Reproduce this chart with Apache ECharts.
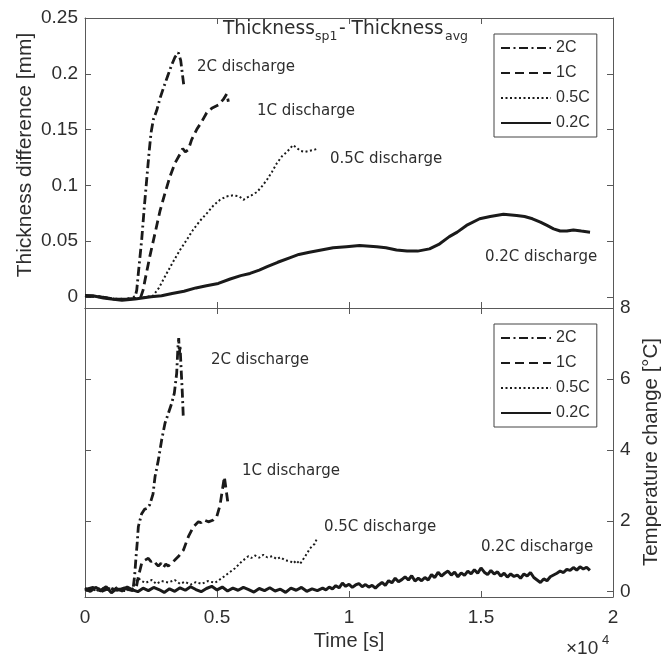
<!DOCTYPE html>
<html>
<head>
<meta charset="utf-8">
<script src="https://cdn.jsdelivr.net/npm/echarts@6/dist/echarts.min.js"></script>
<style>
html,body{margin:0;padding:0;background:#fff;}
#chart{width:663px;height:658px;}
</style>
</head>
<body>
<div id="chart"></div>
<script>
// ---- axis ticks / labels ----
const timeTicks = [0, 5000, 10000, 15000, 20000];
const timeTickLabels = ['0', '0.5', '1', '1.5', '2'];
const thickTicks = [0, 0.05, 0.1, 0.15, 0.2, 0.25];
const thickTickLabels = ['0', '0.05', '0.1', '0.15', '0.2', '0.25'];
const tempTicks = [0, 2, 4, 6, 8];
const tempTickLabels = ['0', '2', '4', '6', '8'];
const seriesNames = ['2C', '1C', '0.5C', '0.2C'];

// ---- top panel: thickness difference [mm] vs time [s] ----
const thick2C = [[0,0.001],[600,0.0],[1100,-0.002],[1600,-0.002],[1900,0.0],[1960,0.006],[2020,0.021],[2147,0.051],[2248,0.081],[2337,0.105],[2425,0.129],[2501,0.147],[2589,0.159],[2715,0.167],[2842,0.178],[2968,0.187],[3132,0.198],[3284,0.208],[3410,0.215],[3536,0.219],[3625,0.212],[3688,0.200],[3751,0.188]];
const thick1C = [[0,0.001],[600,0.0],[1100,-0.002],[1600,-0.002],[2100,-0.001],[2200,0.006],[2273,0.015],[2462,0.037],[2652,0.057],[2841,0.077],[3030,0.093],[3220,0.108],[3410,0.120],[3599,0.128],[3700,0.133],[3800,0.130],[3915,0.132],[4040,0.141],[4230,0.150],[4420,0.157],[4610,0.165],[4800,0.169],[5050,0.172],[5240,0.177],[5370,0.182],[5430,0.175]];
const thick05C = [[0,0.001],[600,0.0],[1100,-0.002],[1600,-0.002],[2100,-0.001],[2576,0.001],[2800,0.008],[3093,0.021],[3350,0.032],[3599,0.042],[3850,0.051],[4091,0.060],[4350,0.068],[4621,0.075],[4870,0.082],[5114,0.087],[5350,0.090],[5606,0.091],[5850,0.090],[6000,0.087],[6136,0.089],[6300,0.091],[6515,0.094],[6700,0.099],[6894,0.105],[7080,0.112],[7273,0.120],[7460,0.126],[7652,0.130],[7879,0.136],[8000,0.134],[8144,0.131],[8330,0.130],[8523,0.131],[8700,0.132],[8826,0.133]];
const thick02C = [[0,0.001],[300,0.001],[700,-0.001],[1000,-0.002],[1400,-0.003],[1900,-0.002],[2500,0.0],[2900,0.001],[3300,0.003],[3750,0.005],[4200,0.008],[4600,0.010],[5050,0.012],[5500,0.016],[5900,0.019],[6250,0.021],[6600,0.024],[6900,0.027],[7300,0.031],[7750,0.035],[8100,0.038],[8500,0.040],[8950,0.042],[9400,0.044],[9900,0.045],[10400,0.046],[11050,0.045],[11400,0.044],[11800,0.042],[12200,0.041],[12600,0.041],[13050,0.043],[13400,0.047],[13800,0.054],[14100,0.058],[14450,0.064],[14950,0.070],[15350,0.072],[15850,0.074],[16350,0.073],[16650,0.072],[16950,0.070],[17250,0.067],[17500,0.064],[17750,0.061],[18000,0.059],[18250,0.059],[18500,0.060],[18800,0.059],[19130,0.058]];

// ---- bottom panel: temperature change [°C] vs time [s] ----
const temp2C = [[0,0.06],[300,0.12],[600,0.0],[900,0.09],[1200,0.03],[1500,0.11],[1800,0.05],[1831,0.14],[1880,0.45],[1930,0.95],[1980,1.40],[2020,1.83],[2083,2.02],[2147,2.2],[2250,2.32],[2348,2.35],[2450,2.45],[2576,2.75],[2652,3.24],[2778,3.71],[2904,4.28],[3030,4.75],[3157,5.03],[3283,5.31],[3384,5.6],[3473,6.16],[3520,6.9],[3550,7.15],[3575,6.7],[3600,6.95],[3637,6.34],[3687,5.6],[3725,4.89]];
const temp1C = [[0,0.05],[300,0.10],[600,0.02],[900,0.12],[1200,0.04],[1500,0.09],[1800,0.03],[1950,0.15],[2020,0.42],[2147,0.80],[2273,0.89],[2400,0.94],[2500,0.85],[2589,0.89],[2700,0.78],[2778,0.72],[2880,0.80],[2968,0.68],[3060,0.78],[3157,0.72],[3250,0.80],[3347,0.85],[3440,0.92],[3536,0.99],[3726,1.17],[3915,1.55],[4105,1.83],[4294,1.97],[4400,1.95],[4484,2.03],[4580,2.0],[4673,1.97],[4863,2.02],[4989,2.11],[5115,2.44],[5204,2.87],[5279,3.24],[5330,2.96],[5406,2.54]];
const temp05C = [[0,0.10],[300,0.03],[600,0.11],[900,0.04],[1200,0.12],[1500,0.02],[1800,0.08],[1894,0.23],[2020,0.38],[2147,0.30],[2300,0.25],[2525,0.33],[2700,0.22],[2900,0.30],[3157,0.26],[3400,0.33],[3600,0.22],[3788,0.28],[4000,0.20],[4200,0.27],[4420,0.22],[4650,0.30],[4925,0.25],[5178,0.38],[5430,0.52],[5683,0.66],[5935,0.85],[6188,1.00],[6300,0.95],[6440,1.02],[6600,0.96],[6755,1.04],[6900,0.97],[7100,1.00],[7260,0.92],[7400,0.97],[7600,0.88],[7765,0.86],[7900,0.80],[8000,0.88],[8144,0.78],[8333,0.99],[8523,1.22],[8700,1.35],[8775,1.48]];
const temp02C = [[0,0.08],[200,0.01],[400,0.12],[600,0.04],[800,0.14],[1000,-0.03],[1200,0.09],[1400,0.02],[1600,0.13],[1800,0.05],[2000,0.0],[2200,0.10],[2400,0.03],[2600,0.12],[2800,0.06],[3000,-0.02],[3200,0.08],[3400,0.01],[3600,0.11],[3800,0.04],[4000,0.14],[4200,0.06],[4400,0.0],[4600,0.09],[4800,0.15],[5000,0.05],[5200,0.13],[5400,0.02],[5600,0.10],[5800,0.04],[6000,0.12],[6200,0.06],[6400,-0.01],[6600,0.09],[6800,0.03],[7000,0.11],[7200,0.02],[7400,0.07],[7600,-0.02],[7800,0.10],[8000,0.04],[8200,0.12],[8400,0.01],[8600,0.08],[8800,0.03],[9000,0.10],
  [9125,0.05],[9250,0.13],[9375,0.08],[9500,0.17],[9625,0.11],[9750,0.24],[9875,0.15],[10000,0.21],[10125,0.12],[10250,0.19],[10375,0.23],[10500,0.14],[10625,0.20],[10750,0.13],[10875,0.18],[11000,0.10],[11125,0.19],[11250,0.26],[11375,0.18],[11500,0.31],[11625,0.25],[11750,0.38],[11875,0.28],[12000,0.34],[12125,0.42],[12250,0.33],[12375,0.45],[12500,0.30],[12625,0.38],[12750,0.31],[12875,0.40],[13000,0.33],[13125,0.48],[13250,0.40],[13375,0.55],[13500,0.44],[13625,0.52],[13750,0.58],[13875,0.47],[14000,0.55],[14125,0.42],[14250,0.53],[14375,0.46],[14500,0.58],[14625,0.50],[14750,0.62],[14875,0.52],[15000,0.67],[15125,0.55],[15250,0.48],[15375,0.60],[15500,0.50],[15625,0.56],[15750,0.44],[15875,0.52],[16000,0.41],[16125,0.50],[16250,0.43],[16375,0.47],[16500,0.38],[16625,0.50],[16750,0.44],[16875,0.54],[17000,0.40],[17125,0.33],[17250,0.26],[17375,0.36],[17500,0.31],[17625,0.42],[17750,0.47],[17875,0.52],[18000,0.58],[18125,0.54],[18250,0.63],[18375,0.60],[18500,0.68],[18625,0.61],[18750,0.70],[18875,0.64],[19000,0.69],[19125,0.60]];

// ---- styling ----
const AX = '#595959';
const TXT = '#2e2e2e';
const TICKFONT = 'Liberation Sans';
const ANNFONT = 'DejaVu Sans';
const styles = {
  '2C':   {type: [9, 3.5, 2, 3.5], width: 2.8},
  '1C':   {type: [9, 5], width: 2.8},
  '0.5C': {type: [2, 2.5], width: 2},
  '0.2C': {type: 'solid', width: 3}
};

function mkSeries(name, data, xi, yi) {
  return {
    name: name, type: 'line', data: data, xAxisIndex: xi, yAxisIndex: yi,
    symbol: 'none', showSymbol: false, smooth: false, animation: false,
    lineStyle: {color: '#1a1a1a', width: styles[name].width, type: styles[name].type, cap: 'butt'},
    itemStyle: {color: '#1a1a1a'}
  };
}

function xAx(grid, pos, labels) {
  return {
    type: 'value', gridIndex: grid, position: pos, min: 0, max: 20000, interval: 5000,
    axisLine: {show: true, onZero: false, lineStyle: {color: AX, width: 1}},
    axisTick: {show: true, inside: true, length: 6, lineStyle: {color: AX, width: 1}},
    axisLabel: labels ? {
      show: true, margin: 11, fontFamily: TICKFONT, fontSize: 19, color: TXT,
      showMinLabel: true, showMaxLabel: true,
      formatter: v => { const i = timeTicks.indexOf(v); return i >= 0 ? timeTickLabels[i] : ''; }
    } : {show: false},
    splitLine: {show: false}
  };
}

function yAx(grid, pos, min, max, ticks, tickLabels, showLabels) {
  return {
    type: 'value', gridIndex: grid, position: pos, min: min, max: max,
    axisLine: {show: true, onZero: false, lineStyle: {color: AX, width: 1}},
    axisTick: {show: true, inside: true, length: 6, customValues: ticks, lineStyle: {color: AX, width: 1}},
    axisLabel: showLabels ? {
      show: true, margin: 7, fontFamily: TICKFONT, fontSize: 19, color: TXT,
      customValues: ticks,
      formatter: v => { const i = ticks.indexOf(v); return i >= 0 ? tickLabels[i] : ''; }
    } : {show: false},
    splitLine: {show: false}
  };
}

function mkLegend(top) {
  return {
    data: seriesNames, orient: 'vertical', left: 494, top: top,
    itemWidth: 50, itemHeight: 14, itemGap: 9,
    padding: [6, 7, 6, 6],
    borderColor: '#444', borderWidth: 1, backgroundColor: '#fff',
    selectedMode: false,
    itemStyle: {opacity: 0, borderWidth: 0, color: 'rgba(0,0,0,0)'},
    textStyle: {fontFamily: TICKFONT, fontSize: 16, color: TXT}
  };
}

function txt(s, x, y, extra) {
  return {
    type: 'text', x: x, y: y, silent: true,
    style: Object.assign({
      text: s, fontFamily: ANNFONT, fontSize: 15, fill: TXT,
      align: 'left', verticalAlign: 'middle', textAlign: 'left', textVerticalAlign: 'middle'
    }, extra || {})
  };
}

const chart = echarts.init(document.getElementById('chart'), null, {renderer: 'canvas'});
chart.setOption({
  animation: false,
  backgroundColor: '#ffffff',
  grid: [
    {left: 85, top: 18, width: 528, height: 290, containLabel: false, outerBoundsMode: 'none'},
    {left: 85, top: 308, width: 528, height: 289, containLabel: false, outerBoundsMode: 'none'}
  ],
  xAxis: [
    xAx(0, 'bottom', false),
    xAx(0, 'top', false),
    xAx(1, 'bottom', true),
    xAx(1, 'top', false)
  ],
  yAxis: [
    yAx(0, 'left', -0.01, 0.25, thickTicks, thickTickLabels, true),
    yAx(0, 'right', -0.01, 0.25, thickTicks, thickTickLabels, false),
    yAx(1, 'left', -0.15, 8, tempTicks, tempTickLabels, false),
    yAx(1, 'right', -0.15, 8, tempTicks, tempTickLabels, true)
  ],
  legend: [mkLegend(34), mkLegend(324)],
  series: [
    mkSeries('2C', thick2C, 0, 0),
    mkSeries('1C', thick1C, 0, 0),
    mkSeries('0.5C', thick05C, 0, 0),
    mkSeries('0.2C', thick02C, 0, 0),
    mkSeries('2C', temp2C, 2, 3),
    mkSeries('1C', temp1C, 2, 3),
    mkSeries('0.5C', temp05C, 2, 3),
    mkSeries('0.2C', temp02C, 2, 3)
  ],
  graphic: [
    // title
    txt('Thickness', 223, 29, {fontSize: 18.6}),
    txt('sp1', 315, 37, {fontSize: 12.5}),
    txt('- Thickness', 339, 29, {fontSize: 18.6}),
    txt('avg', 445, 37, {fontSize: 12.5}),
    // annotations top
    txt('2C discharge', 197, 67),
    txt('1C discharge', 257, 111),
    txt('0.5C discharge', 330, 159),
    txt('0.2C discharge', 485, 257),
    // annotations bottom
    txt('2C discharge', 211, 360),
    txt('1C discharge', 242, 471),
    txt('0.5C discharge', 324, 527),
    txt('0.2C discharge', 481, 547),
    // axis titles
    {type: 'text', x: 25, y: 155, rotation: Math.PI / 2, silent: true,
     style: {text: 'Thickness difference [mm]', fontFamily: TICKFONT, fontSize: 21, fill: TXT,
             align: 'center', verticalAlign: 'middle', textAlign: 'center', textVerticalAlign: 'middle'}},
    {type: 'text', x: 651, y: 452, rotation: Math.PI / 2, silent: true,
     style: {text: 'Temperature change [°C]', fontFamily: TICKFONT, fontSize: 20.5, fill: TXT,
             align: 'center', verticalAlign: 'middle', textAlign: 'center', textVerticalAlign: 'middle'}},
    {type: 'text', x: 349, y: 641, silent: true,
     style: {text: 'Time [s]', fontFamily: TICKFONT, fontSize: 20, fill: TXT,
             align: 'center', verticalAlign: 'middle', textAlign: 'center', textVerticalAlign: 'middle'}},
    {type: 'text', x: 566, y: 649, silent: true,
     style: {text: '×10', fontFamily: TICKFONT, fontSize: 19, fill: TXT,
             align: 'left', verticalAlign: 'middle', textAlign: 'left', textVerticalAlign: 'middle'}},
    {type: 'text', x: 602, y: 640, silent: true,
     style: {text: '4', fontFamily: TICKFONT, fontSize: 13, fill: TXT,
             align: 'left', verticalAlign: 'middle', textAlign: 'left', textVerticalAlign: 'middle'}}
  ]
});
</script>
</body>
</html>
